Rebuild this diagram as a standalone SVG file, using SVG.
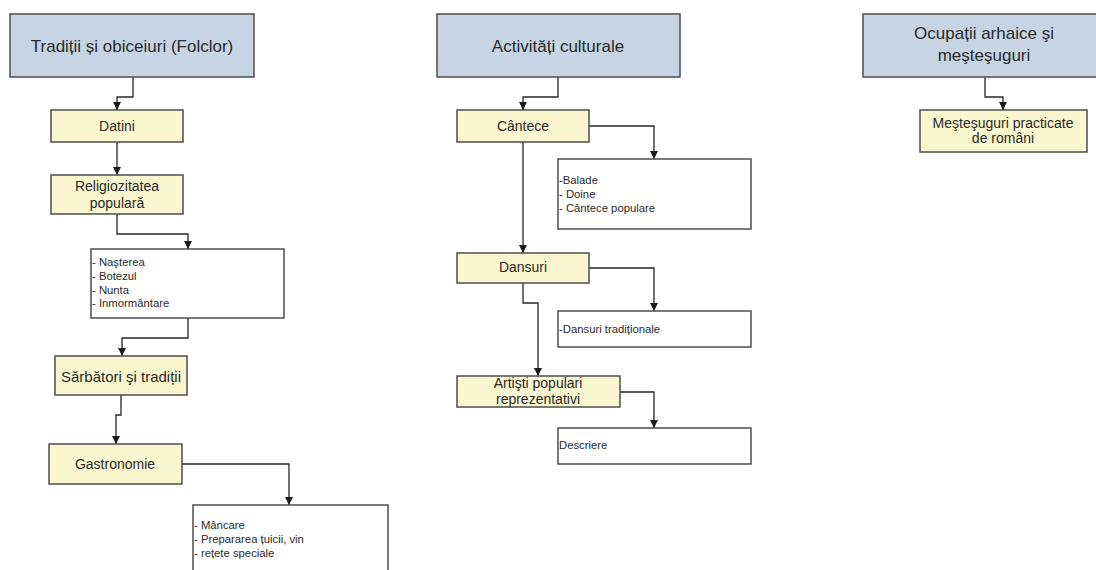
<svg xmlns="http://www.w3.org/2000/svg" width="1096" height="570" viewBox="0 0 1096 570">
  <style>
    .head { fill: #c6d4e3; stroke: #4d4d4d; stroke-width: 1.5; }
    .item { fill: #faf6cf; stroke: #4d4d4d; stroke-width: 1.5; }
    .list { fill: #ffffff; stroke: #4d4d4d; stroke-width: 1.5; }
    text { font-family: "Liberation Sans", Arial, sans-serif; fill: #2a2a2a; }
    .t-head { font-size: 17px; text-anchor: middle; }
    .t-item { font-size: 14px; text-anchor: middle; }
    .t-list { font-size: 11.3px; }
    .wire { fill: none; stroke: #262626; stroke-width: 1.3; marker-end: url(#arrow); }
  </style>
  <defs>
    <marker id="arrow" markerUnits="userSpaceOnUse" markerWidth="9" markerHeight="9" refX="8" refY="4.5" orient="auto">
      <path d="M0,0.5 L8,4.5 L0,8.5 z" fill="#1a1a1a"/>
    </marker>
  </defs>

  <rect width="1096" height="570" fill="#ffffff"/>

  <!-- connectors -->
  <g id="connectors">
    <path class="wire" d="M133,77 V97 H117 V110"/>
    <path class="wire" d="M117,142 V175"/>
    <path class="wire" d="M117,214 V234 H188 V249"/>
    <path class="wire" d="M188,318 V338 H122 V356"/>
    <path class="wire" d="M121,395 V415 H116 V444"/>
    <path class="wire" d="M182,464 H289 V505"/>
    <path class="wire" d="M558,77 V97 H523 V110"/>
    <path class="wire" d="M589,126 H654 V159"/>
    <path class="wire" d="M523,142 V253"/>
    <path class="wire" d="M589,268 H654 V311"/>
    <path class="wire" d="M523,283 V303 H538 V376"/>
    <path class="wire" d="M620,392 H654 V428"/>
    <path class="wire" d="M985,77 V97 H1003 V110"/>
  </g>

  <!-- column 1: folklore -->
  <g id="traditii">
    <rect class="head" x="10" y="14" width="244" height="63"/>
    <text class="t-head" x="132" y="52">Tradiții și obiceiuri (Folclor)</text>
  </g>
  <g id="datini">
    <rect class="item" x="51" y="110" width="132" height="32"/>
    <text class="t-item" x="117" y="131">Datini</text>
  </g>
  <g id="religiozitatea">
    <rect class="item" x="51" y="175" width="132" height="39"/>
    <text class="t-item" x="117" y="191">Religiozitatea</text>
    <text class="t-item" x="117" y="208">populară</text>
  </g>
  <g id="ritualuri">
    <rect class="list" x="91" y="249" width="193" height="69"/>
    <text class="t-list" x="92" y="266">- Naşterea</text>
    <text class="t-list" x="92" y="280">- Botezul</text>
    <text class="t-list" x="92" y="294">- Nunta</text>
    <text class="t-list" x="92" y="307">- Inmormântare</text>
  </g>
  <g id="sarbatori">
    <rect class="item" x="55" y="356" width="132" height="39"/>
    <text class="t-item" x="121" y="382" style="font-size:15px">Sărbători şi tradiții</text>
  </g>
  <g id="gastronomie">
    <rect class="item" x="49" y="444" width="133" height="40"/>
    <text class="t-item" x="115" y="469">Gastronomie</text>
  </g>
  <g id="mancare">
    <rect class="list" x="193" y="505" width="195" height="70"/>
    <text class="t-list" x="194" y="529">- Mâncare</text>
    <text class="t-list" x="194" y="543">- Prepararea țuicii, vin</text>
    <text class="t-list" x="194" y="557">- rețete speciale</text>
  </g>

  <!-- column 2: cultural activities -->
  <g id="activitati">
    <rect class="head" x="437" y="14" width="243" height="63"/>
    <text class="t-head" x="558" y="52">Activități culturale</text>
  </g>
  <g id="cantece">
    <rect class="item" x="457" y="110" width="132" height="32"/>
    <text class="t-item" x="523" y="131">Cântece</text>
  </g>
  <g id="cantece-lista">
    <rect class="list" x="558" y="159" width="193" height="70"/>
    <text class="t-list" x="559" y="184">-Balade</text>
    <text class="t-list" x="559" y="198">- Doine</text>
    <text class="t-list" x="559" y="212">- Cântece populare</text>
  </g>
  <g id="dansuri">
    <rect class="item" x="457" y="253" width="132" height="30"/>
    <text class="t-item" x="523" y="272">Dansuri</text>
  </g>
  <g id="dansuri-lista">
    <rect class="list" x="558" y="311" width="193" height="36"/>
    <text class="t-list" x="559" y="333">-Dansuri tradiționale</text>
  </g>
  <g id="artisti">
    <rect class="item" x="457" y="376" width="163" height="31"/>
    <text class="t-item" x="538" y="388">Artişti populari</text>
    <text class="t-item" x="538" y="404">reprezentativi</text>
  </g>
  <g id="descriere">
    <rect class="list" x="558" y="428" width="193" height="36"/>
    <text class="t-list" x="559" y="449">Descriere</text>
  </g>

  <!-- column 3: crafts -->
  <g id="ocupatii">
    <rect class="head" x="863" y="14" width="240" height="63"/>
    <text class="t-head" x="984" y="39">Ocupații arhaice şi</text>
    <text class="t-head" x="984" y="61">meşteşuguri</text>
  </g>
  <g id="mestesuguri">
    <rect class="item" x="920" y="110" width="167" height="42"/>
    <text class="t-item" x="1003" y="128">Meşteşuguri practicate</text>
    <text class="t-item" x="1003" y="143">de români</text>
  </g>
</svg>
